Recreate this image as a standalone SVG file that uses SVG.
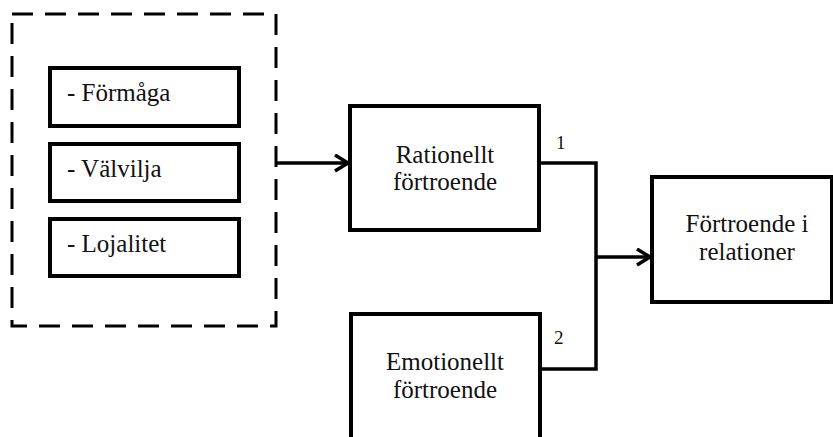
<svg xmlns="http://www.w3.org/2000/svg" width="833" height="437" viewBox="0 0 833 437">
<style>
.box{fill:#fff;stroke:#000;stroke-width:4}
.dash{fill:none;stroke:#000;stroke-width:3;stroke-dasharray:21 12}
.t{font-family:"Liberation Serif","Times New Roman",serif;font-size:25px;fill:#111}
.lbl{font-family:"Liberation Serif","Times New Roman",serif;font-size:19px;fill:#111}
.c{text-anchor:middle}
.ln{fill:none;stroke:#000;stroke-width:3.5}
</style>
<defs>
<marker id="arr" markerWidth="20" markerHeight="20" refX="16" refY="9" orient="auto" markerUnits="userSpaceOnUse">
<path d="M3,1 L16,9 L3,17" fill="none" stroke="#000" stroke-width="3.5"/>
</marker>
</defs>
<rect width="833" height="437" fill="#fff"/>
<g id="group-dashed">
<rect class="dash" x="12" y="14" width="264" height="312"/>
</g>
<g id="node-formaga">
<rect class="box" x="50" y="68" width="189" height="58"/>
<text class="t" x="67" y="101">- Förmåga</text>
</g>
<g id="node-valvilja">
<rect class="box" x="50" y="144" width="189" height="57"/>
<text class="t" x="67" y="177">- Välvilja</text>
</g>
<g id="node-lojalitet">
<rect class="box" x="50" y="219" width="189" height="57"/>
<text class="t" x="67" y="252">- Lojalitet</text>
</g>
<g id="node-rationellt">
<rect class="box" x="350" y="106" width="189" height="124"/>
<text class="t c" x="445" y="163">Rationellt</text>
<text class="t c" x="445" y="190">förtroende</text>
</g>
<g id="node-emotionellt">
<rect class="box" x="351" y="314" width="189" height="140"/>
<text class="t c" x="445" y="370">Emotionellt</text>
<text class="t c" x="445" y="398">förtroende</text>
</g>
<g id="node-fortroende">
<rect class="box" x="652" y="177" width="180" height="125"/>
<text class="t c" x="747" y="232">Förtroende i</text>
<text class="t c" x="747" y="260">relationer</text>
</g>
<g id="connectors">
<path class="ln" d="M276,163 H348" marker-end="url(#arr)"/>
<path class="ln" d="M539,163 H596 V369 H540"/>
<path class="ln" d="M596,257 H650" marker-end="url(#arr)"/>
<text class="lbl" x="556" y="149">1</text>
<text class="lbl" x="554" y="344">2</text>
</g>
</svg>
